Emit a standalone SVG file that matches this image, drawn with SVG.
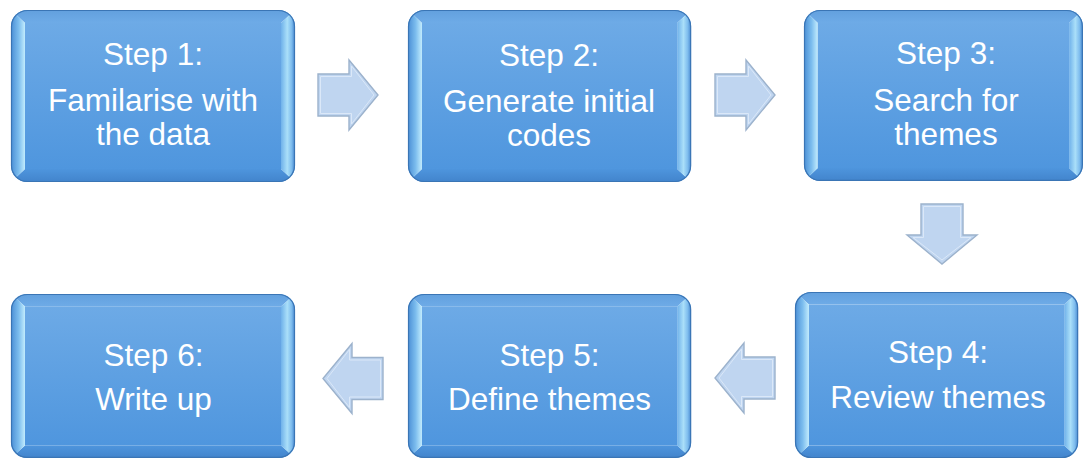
<svg xmlns="http://www.w3.org/2000/svg" xmlns:xlink="http://www.w3.org/1999/xlink" width="1085" height="459" viewBox="0 0 1085 459">
  <style>
    .label { font-family: "Liberation Sans", Arial, sans-serif; font-size: 31.5px; fill: #ffffff; text-anchor: middle; }
    .arrow { fill: #bfd5f0; stroke: #9cb2cc; stroke-width: 1.4; stroke-linejoin: miter; }
    .arrow-hi { fill: none; stroke: #dbe8f8; stroke-width: 1; }
  </style>
  <defs>
    <linearGradient id="faceGrad" x1="0" y1="0" x2="0" y2="1">
      <stop offset="0" stop-color="#6daae6"/>
      <stop offset="1" stop-color="#4f96de"/>
    </linearGradient>
    <linearGradient id="topGrad" x1="0" y1="0" x2="0" y2="1">
      <stop offset="0" stop-color="#62a0de"/>
      <stop offset="1" stop-color="#6eabe7"/>
    </linearGradient>
    <linearGradient id="bottomGrad" x1="0" y1="0" x2="0" y2="1">
      <stop offset="0" stop-color="#4e95dd"/>
      <stop offset="1" stop-color="#4284cc"/>
    </linearGradient>
    <linearGradient id="leftGrad" gradientUnits="userSpaceOnUse" x1="0" y1="0" x2="14" y2="0">
      <stop offset="0" stop-color="#4a8ed5"/>
      <stop offset="0.55" stop-color="#7cbdee"/>
      <stop offset="1" stop-color="#c2ecfd"/>
    </linearGradient>
    <linearGradient id="rightGrad" gradientUnits="userSpaceOnUse" x1="270" y1="0" x2="284" y2="0">
      <stop offset="0" stop-color="#6fb1ea"/>
      <stop offset="0.45" stop-color="#aadff9"/>
      <stop offset="0.75" stop-color="#7fbdee"/>
      <stop offset="1" stop-color="#4687cf"/>
    </linearGradient>
    <clipPath id="tileClip">
      <rect x="0" y="0" width="284" height="172" rx="16" ry="16"/>
    </clipPath>
    <!-- bevelled rounded tile, 284 x 172 at the origin -->
    <g id="tile">
      <g clip-path="url(#tileClip)">
        <polygon points="0,0 284,0 270,13 14,13" fill="url(#topGrad)"/>
        <polygon points="0,172 284,172 270,159 14,159" fill="url(#bottomGrad)"/>
        <polygon points="0,0 14,13 14,159 0,172" fill="url(#leftGrad)"/>
        <polygon points="284,0 270,13 270,159 284,172" fill="url(#rightGrad)"/>
        <rect x="14" y="13" width="256" height="146" fill="url(#faceGrad)"/>
      </g>
      <rect x="0.5" y="0.5" width="283" height="171" rx="16" ry="16" fill="none" stroke="#3a75b5" stroke-width="1.2"/>
    </g>
    <!-- block arrow pointing right, 60 x 70 -->
    <g id="blockArrow">
      <polygon class="arrow" points="0,14 31,14 31,0 60,35 31,70 31,56 0,56"/>
      <polygon class="arrow-hi" points="2.5,16.5 33.5,16.5 33.5,6 56,35 33.5,64 33.5,53.5 2.5,53.5"/>
    </g>
  </defs>

  <rect width="1085" height="459" fill="#ffffff"/>

  <g id="connectors">
    <use xlink:href="#blockArrow" transform="translate(318,60)"/>
    <use xlink:href="#blockArrow" transform="translate(715,60)"/>
    <use xlink:href="#blockArrow" transform="translate(977,204) rotate(90)"/>
    <use xlink:href="#blockArrow" transform="translate(775,343) scale(-1,1)"/>
    <use xlink:href="#blockArrow" transform="translate(383,343.5) scale(-1,1)"/>
  </g>

  <g id="step1">
    <use xlink:href="#tile" transform="translate(11,10)"/>
    <text class="label" x="153" y="65">Step 1:</text>
    <text class="label" x="153" y="111">Familarise with</text>
    <text class="label" x="153" y="145">the data</text>
  </g>

  <g id="step2">
    <use xlink:href="#tile" transform="translate(408,10) scale(0.997,1)"/>
    <text class="label" x="549" y="65.5">Step 2:</text>
    <text class="label" x="549" y="112">Generate initial</text>
    <text class="label" x="549" y="145.5">codes</text>
  </g>

  <g id="step3">
    <use xlink:href="#tile" transform="translate(804,10) scale(0.982,0.994)"/>
    <text class="label" x="946" y="64">Step 3:</text>
    <text class="label" x="946" y="111">Search for</text>
    <text class="label" x="946" y="145">themes</text>
  </g>

  <g id="step4">
    <use xlink:href="#tile" transform="translate(795,292) scale(0.997,0.965)"/>
    <text class="label" x="938" y="363">Step 4:</text>
    <text class="label" x="938" y="408">Review themes</text>
  </g>

  <g id="step5">
    <use xlink:href="#tile" transform="translate(408,294) scale(0.997,0.953)"/>
    <text class="label" x="549.5" y="366">Step 5:</text>
    <text class="label" x="549.5" y="410">Define themes</text>
  </g>

  <g id="step6">
    <use xlink:href="#tile" transform="translate(11,294) scale(1,0.953)"/>
    <text class="label" x="153.5" y="366">Step 6:</text>
    <text class="label" x="153.5" y="410">Write up</text>
  </g>
</svg>
